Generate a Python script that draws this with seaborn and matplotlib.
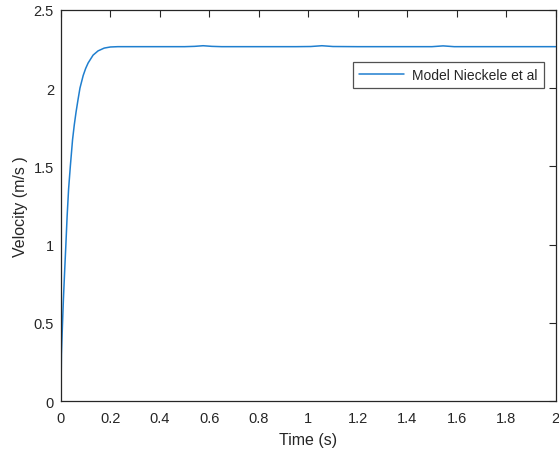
import matplotlib
matplotlib.use("Agg")
import matplotlib.pyplot as plt
import seaborn as sns
import pandas as pd

time_s = [0.0, 0.002, 0.006, 0.010, 0.015, 0.020, 0.025, 0.031, 0.038, 0.047, 0.054,
          0.061, 0.069, 0.077, 0.090, 0.10, 0.11, 0.13, 0.15, 0.175, 0.20, 0.23,
          0.30, 0.40, 0.50, 0.54, 0.575, 0.61, 0.65, 0.80, 0.95, 1.01, 1.055, 1.10,
          1.20, 1.40, 1.50, 1.545, 1.59, 1.70, 1.90, 2.00]
velocity = [0.0, 0.30, 0.48, 0.65, 0.83, 1.00, 1.18, 1.355, 1.50, 1.67, 1.765,
            1.845, 1.925, 2.00, 2.08, 2.125, 2.16, 2.21, 2.237, 2.255, 2.262, 2.264,
            2.264, 2.264, 2.264, 2.266, 2.270, 2.266, 2.264, 2.264, 2.264, 2.265, 2.270, 2.265,
            2.264, 2.264, 2.264, 2.269, 2.264, 2.264, 2.264, 2.264]
series_label = "Model Nieckele et al"

df = pd.DataFrame({"Time": time_s, "Velocity": velocity, "Series": series_label})

sns.set_theme(style="white")
plt.rcParams["font.family"] = ["Liberation Sans", "DejaVu Sans"]

fig = plt.figure(figsize=(5.59, 4.56), dpi=100)
ax = fig.add_axes([0.109, 0.118, 0.885, 0.8585])

sns.lineplot(data=df, x="Time", y="Velocity", hue="Series", palette=["#1f7fcf"],
             linewidth=1.1, ax=ax)

ax.set_xlim(0, 2)
ax.set_ylim(0, 2.5)
ax.set_xticks([0, 0.2, 0.4, 0.6, 0.8, 1.0, 1.2, 1.4, 1.6, 1.8, 2.0])
ax.set_xticklabels(["0", "0.2", "0.4", "0.6", "0.8", "1", "1.2", "1.4", "1.6", "1.8", "2"])
ax.set_yticks([0, 0.5, 1, 1.5, 2, 2.5])
ax.set_yticklabels(["0", "0.5", "1", "1.5", "2", "2.5"])
ax.tick_params(direction="in", length=5, width=0.8, top=True, right=True,
               labelsize=10.5, colors="#262626")
ax.tick_params(axis="x", pad=7)
ax.tick_params(axis="y", pad=5)
for s in ax.spines.values():
    s.set_color("#262626")
    s.set_linewidth(0.9)
ax.set_xlabel("Time (s)", fontsize=11.5, color="#262626", labelpad=5)
ax.set_ylabel("Velocity (m/s )", fontsize=11.5, color="#262626", labelpad=4)

leg = ax.legend(loc="upper right", bbox_to_anchor=(0.99, 0.885), frameon=True,
                fancybox=False, fontsize=10, handlelength=3.2, borderpad=0.45,
                handletextpad=0.6)
leg.get_frame().set_edgecolor("#262626")
leg.get_frame().set_linewidth(0.9)

fig.savefig("out.png", dpi=100)
